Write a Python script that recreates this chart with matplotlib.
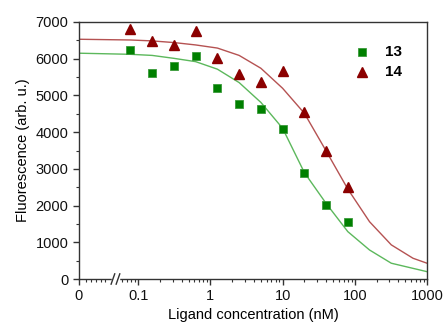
import numpy as np
import matplotlib.pyplot as plt

# concentrations (nM) of the titration points
conc = [0.078, 0.156, 0.3125, 0.625, 1.25, 2.5, 5, 10, 20, 40, 80]
fluo_13 = [6240, 5600, 5810, 6080, 5190, 4770, 4640, 4080, 2900, 2020, 1540]
fluo_14 = [6800, 6490, 6370, 6760, 6010, 5580, 5370, 5670, 4540, 3490, 2500]

# fitted curves
fit_conc = [0, 0.078, 0.156, 0.3125, 0.625, 1.25, 2.5, 5, 10, 20, 40, 80, 160, 320, 640, 1000]
fit_13 = [6150, 6120, 6090, 6010, 5920, 5715, 5350, 4810, 4105, 2900, 2060, 1290, 790, 430, 290, 200]
fit_14 = [6530, 6510, 6485, 6440, 6375, 6290, 6090, 5740, 5195, 4515, 3490, 2450, 1560, 930, 565, 430]

x_ticklabels = ["0", "0.1", "1", "10", "100", "1000"]
legend_labels = ["13", "14"]

# broken x axis: linear stub for 0, then log10 scale
U_ZERO = -1.82


def to_u(c):
    c = np.asarray(c, dtype=float)
    out = np.full(c.shape, U_ZERO)
    pos = c > 0
    out[pos] = np.log10(c[pos])
    return out


plt.rcParams["font.family"] = ["Liberation Sans", "DejaVu Sans"]

fig = plt.figure(figsize=(4.47, 3.23), dpi=100)
ax = fig.add_axes([0.1767, 0.1362, 0.9553 - 0.1767, 0.9319 - 0.1362])

ax.plot(to_u(fit_conc), fit_13, color="#5cb85c", lw=1.0, zorder=2)
ax.plot(to_u(fit_conc), fit_14, color="#b55252", lw=1.0, zorder=2)
ax.plot(to_u(conc), fluo_13, "s", color="#008000", mec="#3a9a3a", mew=0.6, ms=6, ls="none", zorder=3)
ax.plot(to_u(conc), fluo_14, "^", color="#8b0000", mec="#8b0000", ms=7.5, ls="none", zorder=3)

ax.set_xlim(U_ZERO, 3)
ax.set_ylim(0, 7000)

major_u = [U_ZERO, -1, 0, 1, 2, 3]
ax.set_xticks(major_u)
ax.set_xticklabels(x_ticklabels)
minor_u = [-1.722, -1.653, -1.583, -1.514, -1.458]
for dec in [-2, -1, 0, 1, 2]:
    for m in range(2, 10):
        u = dec + np.log10(m)
        if u > -1.3:
            minor_u.append(u)
ax.set_xticks(minor_u, minor=True)

ax.set_yticks(np.arange(0, 7001, 1000))
ax.set_yticks(np.arange(500, 7000, 1000), minor=True)

spine_col = "#333333"
for s in ax.spines.values():
    s.set_color(spine_col)
    s.set_linewidth(1.0)
ax.tick_params(which="both", direction="out", colors=spine_col, labelcolor="#111111",
               labelsize=10.5, top=False, right=False)
ax.tick_params(which="major", length=4, width=1)
ax.tick_params(which="minor", length=2.5, width=0.8)

ax.set_xlabel("Ligand concentration (nM)", fontsize=10.5, labelpad=3)
ax.set_ylabel("Fluorescence (arb. u.)", fontsize=10.5, labelpad=4)

# axis break marks
trans = ax.get_xaxis_transform()
u1, u2 = -1.35, -1.28
ax.plot([u1 + 0.005, u2 - 0.005], [0, 0], color="white", lw=2.5, transform=trans,
        clip_on=False, zorder=5)
for u in (u1, u2):
    ax.plot([u - 0.025, u + 0.025], [-0.02, 0.02], color=spine_col, lw=1.0,
            transform=trans, clip_on=False, zorder=6)

# legend
lx = 0.812
ax.plot([lx], [0.885], "s", color="#008000", mec="#3a9a3a", mew=0.6, ms=6,
        transform=ax.transAxes)
ax.plot([lx], [0.805], "^", color="#8b0000", ms=7.5, transform=ax.transAxes)
ax.text(0.88, 0.885, legend_labels[0], fontsize=11, fontweight="bold",
        va="center", transform=ax.transAxes)
ax.text(0.88, 0.805, legend_labels[1], fontsize=11, fontweight="bold",
        va="center", transform=ax.transAxes)

fig.savefig("out.png", dpi=100)
